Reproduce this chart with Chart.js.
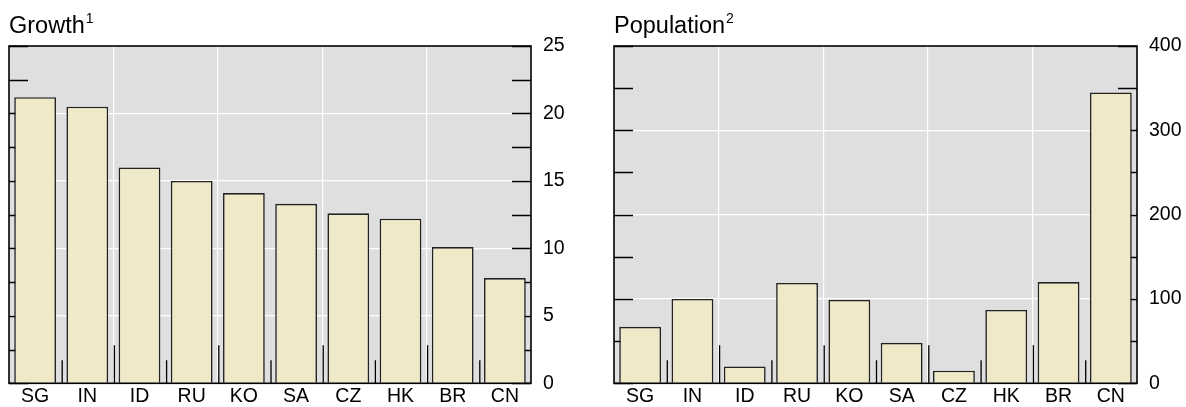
<!DOCTYPE html>
<html>
<head>
<meta charset="utf-8">
<script src="https://cdn.jsdelivr.net/npm/chart.js@4"></script>
<style>
  html, body { margin: 0; padding: 0; background: #fff; }
  body { width: 1186px; height: 407px; position: relative; overflow: hidden;
         font-family: 'Liberation Sans', Arial, sans-serif; }
  .panel { position: absolute; top: 0; width: 593px; height: 407px; }
  .title { position: absolute; top: 14px; font-size: 23.5px; line-height: 23.5px; color: #000; white-space: nowrap; }
  .title span { font-size: 14px; position: relative; top: -10px; margin-left: 1px; }
</style>
</head>
<body>
<div class="panel" style="left:0"><canvas id="growthChart"></canvas></div>
<div class="panel" style="left:593px"><canvas id="popChart"></canvas></div>
<div class="title" style="left:9px">Growth<span>1</span></div>
<div class="title" style="left:614px">Population<span>2</span></div>
<script>
const countries = ['SG', 'IN', 'ID', 'RU', 'KO', 'SA', 'CZ', 'HK', 'BR', 'CN'];
const growthValues = [21.2, 20.5, 16.0, 15.0, 14.1, 13.3, 12.6, 12.2, 10.1, 7.8];
const populationValues = [67, 100, 20, 119, 99, 48, 15, 87, 120, 345];
const growthTickLabels = [0, 5, 10, 15, 20, 25];
const populationTickLabels = [0, 100, 200, 300, 400];

const font = { family: "'Liberation Sans', Arial, sans-serif", size: 19.5 };

// grey plot background, inward ticks and black frame
const framePlugin = {
    id: 'frame',
    beforeDraw(chart) {
        const a = chart.chartArea, ctx = chart.ctx;
        ctx.save();
        ctx.fillStyle = '#dfdfdf';
        ctx.fillRect(a.left, a.top, a.right - a.left, a.bottom - a.top);
        ctx.restore();
    },
    beforeDatasetsDraw(chart, args, opts) {
        const a = chart.chartArea, ctx = chart.ctx;
        const y = chart.scales.y, x = chart.scales.x;
        ctx.save();
        ctx.strokeStyle = '#000';
        ctx.lineWidth = 1.3;
        ctx.beginPath();
        for (let v = y.min; v <= y.max + 1e-9; v += opts.minorStep) {
            const py = Math.round(y.getPixelForValue(v)) + 0.5;
            ctx.moveTo(a.left, py); ctx.lineTo(a.left + 19, py);
            ctx.moveTo(a.right - 19, py); ctx.lineTo(a.right, py);
        }
        for (let i = 1; i < countries.length; i++) {
            const px = (x.getPixelForValue(i - 1) + x.getPixelForValue(i)) / 2;
            const len = i % 2 === 0 ? 38 : 23;
            ctx.moveTo(px + 1, a.bottom); ctx.lineTo(px + 1, a.bottom - len);
        }
        ctx.stroke();
        ctx.restore();
    },
    afterDatasetsDraw(chart) {
        const a = chart.chartArea, ctx = chart.ctx;
        ctx.save();
        ctx.strokeStyle = '#000';
        ctx.lineWidth = 1.6;
        ctx.strokeRect(a.left, a.top, a.right - a.left, a.bottom - a.top);
        ctx.restore();
    }
};

function makeChart(canvasId, values, tickLabels, minorStep, padLeft, axisWidth) {
    const ctx = document.getElementById(canvasId);
    return new Chart(ctx, {
        type: 'bar',
        data: {
            labels: countries,
            datasets: [{
                data: values,
                backgroundColor: '#f0e9c8',
                borderColor: '#222222',
                borderWidth: 1.6,
                categoryPercentage: 1,
                barPercentage: 0.8
            }]
        },
        options: {
            responsive: true,
            maintainAspectRatio: false,
            animation: false,
            layout: { padding: { left: padLeft, top: 46, right: 0, bottom: 0 } },
            plugins: {
                legend: { display: false },
                tooltip: { enabled: false },
                frame: { minorStep: minorStep }
            },
            scales: {
                x: {
                    offset: true,
                    grid: {
                        offset: true,
                        drawTicks: false,
                        color: (c) => (c.index % 2 === 0 ? '#ffffff' : 'rgba(0,0,0,0)'),
                        lineWidth: 1.2
                    },
                    border: { display: false },
                    ticks: { color: '#000', font: font, padding: 2, autoSkip: false, maxRotation: 0 },
                    afterFit: (s) => { s.height = 21; }
                },
                y: {
                    position: 'right',
                    min: tickLabels[0],
                    max: tickLabels[tickLabels.length - 1],
                    grid: { drawTicks: false, color: '#ffffff', lineWidth: 1.2 },
                    border: { display: false },
                    ticks: { stepSize: tickLabels[1] - tickLabels[0], color: '#000', font: font, padding: 12 },
                    afterFit: (s) => { s.width = axisWidth; }
                }
            }
        },
        plugins: [framePlugin]
    });
}

makeChart('growthChart', growthValues, growthTickLabels, 2.5, 9, 62);
makeChart('popChart', populationValues, populationTickLabels, 50, 21, 49);
</script>
</body>
</html>
